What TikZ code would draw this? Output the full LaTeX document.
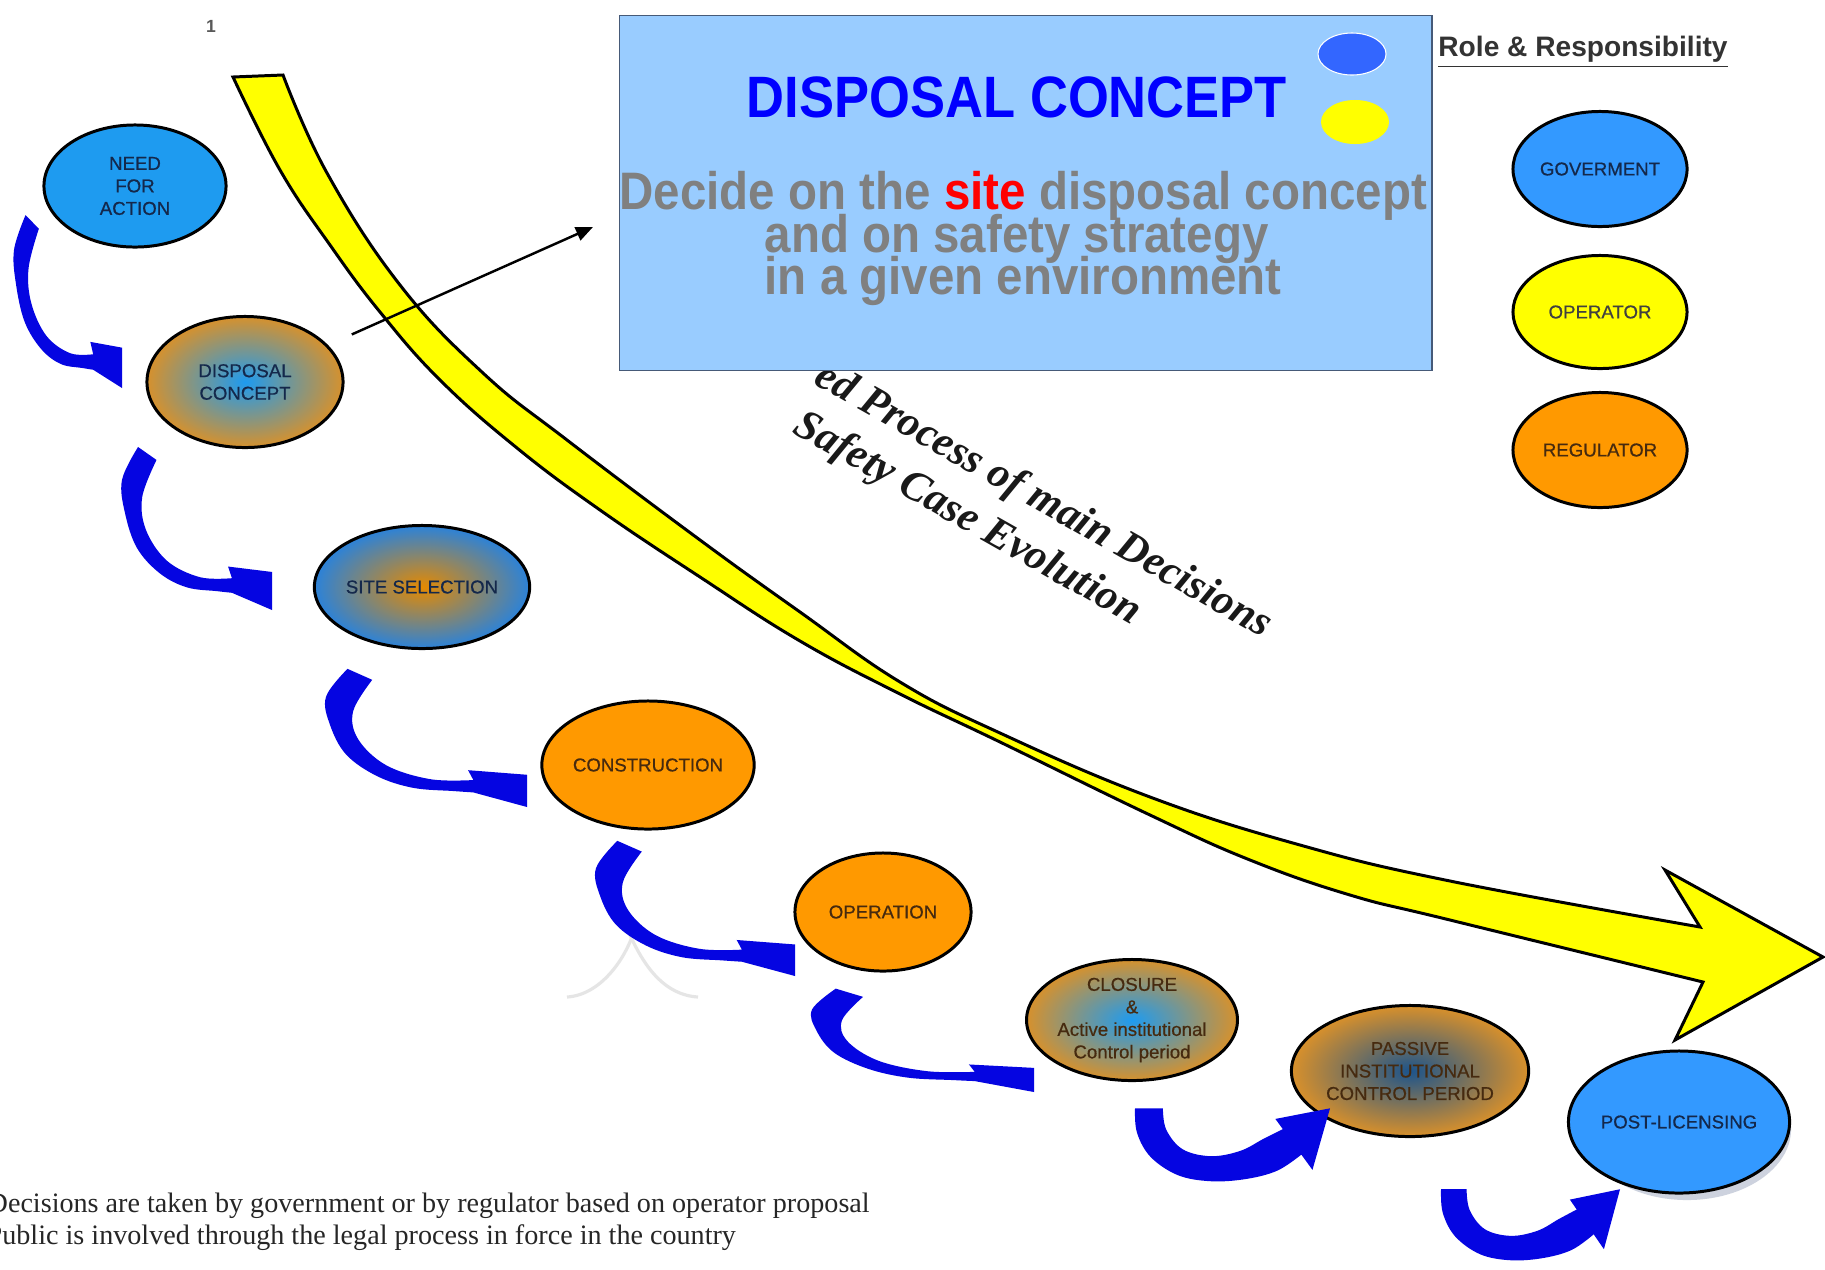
\documentclass[tikz,border=0pt]{standalone}
\usepackage{fontspec}
\setmainfont{Liberation Serif}
\newfontfamily\labelfont{Liberation Sans}
\newfontfamily\stagefont[FakeBold=0.6]{Liberation Sans}
\newfontfamily\narrowfont[FakeStretch=0.9]{Liberation Sans}
\usetikzlibrary{shapes.geometric,arrows.meta,calc}

\definecolor{bandyellow}{RGB}{255,255,0}
\definecolor{boxblue}{RGB}{153,204,255}
\definecolor{boxedge}{RGB}{70,90,120}
\definecolor{titleblue}{RGB}{0,0,255}
\definecolor{textgray}{RGB}{128,128,128}
\definecolor{sitered}{RGB}{255,0,0}
\definecolor{dotblue}{RGB}{51,102,255}
\definecolor{skyblue}{RGB}{30,155,240}
\definecolor{roleblue}{RGB}{51,153,255}
\definecolor{roleorange}{RGB}{255,153,0}
\definecolor{amber}{RGB}{214,145,45}
\definecolor{arrowblue}{RGB}{5,5,225}
\definecolor{navytext}{RGB}{20,40,75}
\definecolor{browntext}{RGB}{70,42,15}
\definecolor{shadowgray}{RGB}{205,210,222}

\tikzset{
  stage/.style={ellipse, draw=black, line width=0.85pt, inner sep=0pt, align=center,
    font=\stagefont\fontsize{5.3}{6.4}\selectfont},
  gradstage/.style 2 args={stage, shading=radial, inner color=#1, outer color=#2},
  caption/.style={rotate=-29.5, inner sep=0pt, anchor=base west, text=black!90,
    font=\bfseries\itshape\fontsize{12.2}{14}\selectfont},
  boxline/.style={inner sep=0pt, anchor=base west, text=textgray,
    font=\narrowfont\bfseries\fontsize{15}{15}\selectfont},
  note/.style={inner sep=0pt, anchor=base west, text=black!85,
    font=\fontsize{8}{9.6}\selectfont},
  % curved step arrow that sweeps down and turns right
  jarrow/.pic={
    \fill[arrowblue] (0.107,0.006) -- (0.23,0.085)
      -- plot[smooth, tension=0.6] coordinates {(0.23,0.085) (0.135,0.311) (0.16,0.512) (0.30,0.70) (0.52,0.80) (0.733,0.806)}
      -- (0.707,0.735) -- (1,0.768) -- (1,1) -- (0.733,0.895)
      -- plot[smooth, tension=0.6] coordinates {(0.733,0.895) (0.633,0.885) (0.433,0.862) (0.253,0.777) (0.10,0.622) (0.02,0.409) (0,0.207) (0.107,0.006)}
      -- cycle;
  },
  % U-shaped step arrow that dips and rises to the upper right
  uarrow/.pic={
    \fill[arrowblue] (0,0.03) -- (0.143,0.03)
      -- plot[smooth, tension=0.6] coordinates {(0.143,0.03) (0.16,0.31) (0.245,0.57) (0.39,0.66) (0.54,0.59) (0.66,0.43) (0.758,0.304)}
      -- (0.72,0.17) -- (1.0,0.03) -- (0.91,0.84) -- (0.853,0.639)
      -- plot[smooth, tension=0.6] coordinates {(0.853,0.639) (0.73,0.85) (0.57,0.96) (0.39,0.99) (0.22,0.91) (0.08,0.67) (0.01,0.35) (0,0.03)}
      -- cycle;
  },
  steparrow/.style={transform shape}
}

\begin{document}
\begin{tikzpicture}[x=0.01cm, y=-0.01cm]
\fill[white] (0,0) rectangle (1825,1269);
\useasboundingbox (0,0) rectangle (1825,1269);

% small page mark
\node[font=\labelfont\bfseries\fontsize{5}{6}\selectfont, text=black!65] (mark) at (211,26) {1};

% slanted caption along the big arrow
\node[caption] (cap1) at (812,383) {ed Process of main Decisions};
\node[caption] (cap2) at (791,432) {Safety Case Evolution};

% faint stray strokes
\draw[black!10, line width=0.9pt] (567,997) .. controls (600,995) and (625,960) .. (634,931);
\draw[black!10, line width=0.9pt] (630,935) .. controls (645,968) and (665,995) .. (698,997);

% big yellow timeline arrow
\filldraw[fill=bandyellow, draw=black, line width=0.85pt, line join=miter]
  (233,77) -- (283,75)
  -- plot[smooth, tension=0.7] coordinates {(283,75) (327,173) (400,285) (483,373) (567,440) (700,540) (800,612) (900,682) (1000,733) (1150,797) (1300,845) (1450,881) (1700,927)}
  -- (1665,870) -- (1823,957) -- (1675,1040) -- (1703,982)
  -- plot[smooth, tension=0.7] coordinates {(1703,982) (1450,920) (1350,895) (1250,860) (1150,815) (1000,742) (900,694) (800,641) (700,577) (600,510) (517,448) (440,380) (380,312) (330,245) (280,170) (233,77)}
  -- cycle;

% concept panel
\node[draw=boxedge, fill=boxblue, line width=0.35pt, minimum width=8.12cm, minimum height=3.55cm,
  inner sep=0pt, anchor=north west] (box) at (619,15) {};
\node[ellipse, fill=dotblue, draw=white, line width=0.3pt, minimum width=0.68cm, minimum height=0.42cm, inner sep=0pt] (dotb) at (1352,54) {};
\node[ellipse, fill=bandyellow, minimum width=0.68cm, minimum height=0.44cm, inner sep=0pt] (doty) at (1355,122) {};
\node[inner sep=0pt, anchor=base, text=titleblue, font=\narrowfont\bfseries\fontsize{16.6}{18}\selectfont] (title) at (1017,117) {DISPOSAL CONCEPT};
\node[boxline] (bl1) at (619,209) {Decide on the \textcolor{sitered}{site} disposal concept};
\node[boxline] (bl2) at (764,252) {and on safety strategy};
\node[boxline] (bl3) at (764,294) {in a given environment};

% process stages
\node[stage, fill=skyblue, text=navytext, minimum width=1.82cm, minimum height=1.22cm] (na) at (135,186) {NEED\\FOR\\ACTION};
\node[gradstage={skyblue}{amber}, text=navytext, minimum width=1.96cm, minimum height=1.31cm] (dc) at (245,382) {DISPOSAL\\CONCEPT};
\node[gradstage={roleorange!90!black}{roleblue!85!black}, text=navytext, minimum width=1.82cm, minimum height=1.23cm] (ss) at (422,587) {SITE SELECTION};
\node[stage, fill=roleorange, text=browntext, minimum width=1.89cm, minimum height=1.28cm] (co) at (648,765) {CONSTRUCTION};
\node[stage, fill=roleorange, text=browntext, minimum width=1.76cm, minimum height=1.18cm] (op) at (883,912) {OPERATION};
\node[gradstage={skyblue}{amber}, text=browntext, minimum width=1.82cm, minimum height=1.21cm] (cl) at (1132,1020) {CLOSURE\\\&\\Active institutional\\Control period};
\node[gradstage={black!45!roleblue}{amber!95!orange}, text=browntext, minimum width=1.95cm, minimum height=1.31cm] (pa) at (1410,1071) {PASSIVE\\INSTITUTIONAL\\CONTROL PERIOD};
\node[ellipse, fill=shadowgray, minimum width=2.08cm, minimum height=1.42cm, inner sep=0pt] (plshadow) at (1687,1129) {};
\node[stage, fill=roleblue, text=navytext, minimum width=2.08cm, minimum height=1.42cm] (pl) at (1679,1122) {POST-LICENSING};

% link from the stage to its panel
\coordinate (panelpt) at (593,227);
\draw[line width=0.7pt, shorten <=0.26cm, -{Triangle[length=0.17cm, width=0.14cm]}] (dc) -- (panelpt);

% curved step arrows
\begin{scope}[shift={(14,214)}, xscale=108, yscale=174, steparrow] \pic {jarrow}; \end{scope}
\begin{scope}[shift={(122,446)}, xscale=150, yscale=164, steparrow] \pic {jarrow}; \end{scope}
\begin{scope}[shift={(326,668)}, xscale=201, yscale=139, steparrow] \pic {jarrow}; \end{scope}
\begin{scope}[shift={(596,840)}, xscale=199, yscale=136, steparrow] \pic {jarrow}; \end{scope}
\begin{scope}[shift={(812,988)}, xscale=222, yscale=104, steparrow] \pic {jarrow}; \end{scope}
\begin{scope}[shift={(1135,1106)}, xscale=195, yscale=76, steparrow] \pic {uarrow}; \end{scope}
\begin{scope}[shift={(1441,1187)}, xscale=179, yscale=74, steparrow] \pic {uarrow}; \end{scope}

% roles legend
\node[anchor=base, inner sep=0pt, text=black!80, font=\labelfont\bfseries\fontsize{8}{9.5}\selectfont] (role) at (1583,56) {\underline{Role \& Responsibility}};
\node[stage, fill=roleblue, text=navytext, minimum width=1.74cm, minimum height=1.15cm] (gov) at (1600,169) {GOVERMENT};
\node[stage, fill=bandyellow, text=black!75, minimum width=1.74cm, minimum height=1.13cm] (opr) at (1600,312) {OPERATOR};
\node[stage, fill=roleorange, text=browntext, minimum width=1.74cm, minimum height=1.15cm] (reg) at (1600,450) {REGULATOR};

% footnotes
\node[note] (note1) at (-13,1212) {Decisions are taken by government or by regulator based on operator proposal};
\node[note] (note2) at (-14,1244) {Public is involved through the legal process in force in the country};
\end{tikzpicture}
\end{document}
